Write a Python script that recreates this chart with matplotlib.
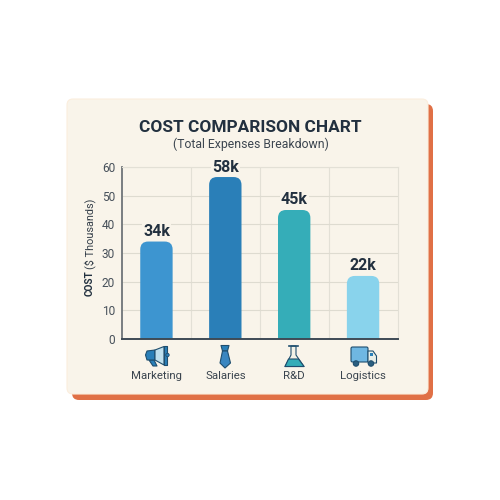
import matplotlib
matplotlib.use("Agg")
import matplotlib.pyplot as plt
from matplotlib.patches import Circle, FancyBboxPatch, Polygon, Rectangle

categories = ["Marketing", "Salaries", "R&D", "Logistics"]
# bar heights as drawn; the Salaries bar stops short of its 58k label
values = [34, 56.5, 45, 22]
value_labels = ["34k", "58k", "45k", "22k"]
bar_colors = ["#3d95d0", "#2a7fb8", "#35adb8", "#89d3ec"]
y_ticks = [0, 10, 20, 30, 40, 50, 60]

INK = "#22303f"
EDGE = "#1f4e6e"
CARD = "#f9f4ea"

plt.rcParams["font.family"] = ["Roboto", "DejaVu Sans"]

fig = plt.figure(figsize=(5, 5), dpi=100, facecolor="white")

# backdrop in pixel coordinates, y pointing down like the reference
bg = fig.add_axes([0, 0, 1, 1])
bg.set_xlim(0, 500)
bg.set_ylim(500, 0)
bg.axis("off")


def rounded(x0, y0, x1, y1, r, **kw):
    box = FancyBboxPatch((x0, y0), x1 - x0, y1 - y0,
                         boxstyle=f"round,pad=0,rounding_size={r}", **kw)
    bg.add_patch(box)
    return box


rounded(72, 104, 433, 400, 7, fc="#e07046", ec="none")
rounded(67, 99, 428, 394, 6, fc=CARD, ec="#fbeedd", lw=0.8)

bg.text(250, 127, "COST COMPARISON CHART", ha="center", va="center",
        fontsize=12.4, fontweight="bold", color=INK)
bg.text(251, 144, "(Total Expenses Breakdown)", ha="center", va="center",
        fontsize=8.8, color="#3d4650")

# chart axes, set so the plot area lands on x 122-397, y 167-339
ax = fig.add_axes([122 / 500, 1 - 339 / 500, 275.5 / 500, 172 / 500])
ax.patch.set_alpha(0)
ax.set_xlim(-0.5, 3.5)
ax.set_ylim(0, 60)
ax.set_axisbelow(True)

ax.set_yticks(y_ticks)
ax.set_xticks([])
ax.set_xticks([0.5, 1.5, 2.5], minor=True)
ax.grid(True, axis="y", color="#dedbd0", lw=0.8)
ax.grid(True, axis="x", which="minor", color="#e3e0d6", lw=0.8)
ax.tick_params(axis="y", length=0, labelsize=8.6, labelcolor="#47505a", pad=5)
ax.tick_params(axis="x", which="minor", length=0)

ax.spines["top"].set_color("#e3e0d6")
ax.spines["right"].set_color("#e3e0d6")
ax.spines["left"].set_color("#6f7478")
ax.spines["left"].set_linewidth(1.3)
ax.spines["bottom"].set_color("#3e4a55")
ax.spines["bottom"].set_linewidth(1.4)

bar_width = 0.47
# bars start below zero so only the top corners show rounded
for i, (v, c) in enumerate(zip(values, bar_colors)):
    ax.add_patch(FancyBboxPatch((i - bar_width / 2, -6), bar_width, v + 6,
                                boxstyle="round,pad=0,rounding_size=0.115",
                                mutation_aspect=24, fc=c, ec="none", zorder=2))

for i, (v, lab) in enumerate(zip(values, value_labels)):
    # label sits on a cream patch where it crosses the grid
    ax.text(i, v + 3.5, lab, ha="center", va="center", fontsize=11.5,
            fontweight="bold", color=INK, zorder=3, clip_on=False,
            bbox=dict(fc=CARD, ec="none", pad=0.8))

# y label: bold COST, regular unit
bg.text(90, 296, "COST", rotation=90, ha="center", va="bottom",
        fontsize=7.2, fontweight="bold", color=INK)
bg.text(90, 269, "($ Thousands)", rotation=90, ha="center", va="bottom",
        fontsize=7.8, color="#333d48")

for i, name in enumerate(categories):
    ax.annotate(name, xy=(i, 0), xycoords=("data", "axes fraction"),
                xytext=(0, -37 * 0.72), textcoords="offset points",
                ha="center", va="center", fontsize=8.2, color="#3a444e",
                annotation_clip=False)


# icons, hand drawn in pixel coordinates
def poly(points, fc, z=5):
    bg.add_patch(Polygon(points, closed=True, fc=fc, ec=EDGE, lw=0.8, zorder=z,
                         joinstyle="round"))


# megaphone
poly([(149, 360), (154, 360), (157, 366), (153, 366)], "#2a7fb8")
poly([(147, 351), (155, 350), (155, 360), (147, 360), (145.5, 355)], "#2a7fb8")
poly([(155, 350), (164, 346.5), (164, 365), (155, 360)], "#bfe0ee")
poly([(164, 346), (166.5, 346), (166.5, 365), (164, 365)], "#2a7fb8")
bg.add_patch(Circle((167.5, 355), 1.7, fc="#2a7fb8", ec=EDGE, lw=0.6, zorder=6))

# tie
poly([(221, 345.5), (229, 345.5), (227.5, 351), (222.5, 351)], "#2a7fb8")
poly([(222.5, 351), (227.5, 351), (230.5, 363), (225, 368), (220, 363)], "#3a86c0")

# flask
poly([(291, 346), (296, 346), (296, 355), (304, 366.5), (285, 366.5), (291, 355)], "#f2f1e6")
poly([(288.5, 359), (298.5, 359), (304, 366.5), (285, 366.5)], "#35adb8")
bg.plot([289, 298], [346, 346], color=EDGE, lw=1.2, zorder=6)

# truck
bg.add_patch(FancyBboxPatch((351, 347), 17, 15, boxstyle="round,pad=0,rounding_size=1.5",
                            fc="#6fb7e2", ec=EDGE, lw=0.8, zorder=5))
poly([(368, 351), (373, 351), (376.5, 356), (376.5, 363), (368, 363)], "#e8eee8")
bg.add_patch(Rectangle((369.5, 352.5), 3.5, 3.5, fc="#2a7fb8", ec="none", zorder=6))
for wx in (356, 371):
    bg.add_patch(Circle((wx, 363.5), 2.7, fc="#2b5f80", ec=EDGE, lw=0.8, zorder=7))

fig.savefig("out.png", dpi=100, facecolor="white")
